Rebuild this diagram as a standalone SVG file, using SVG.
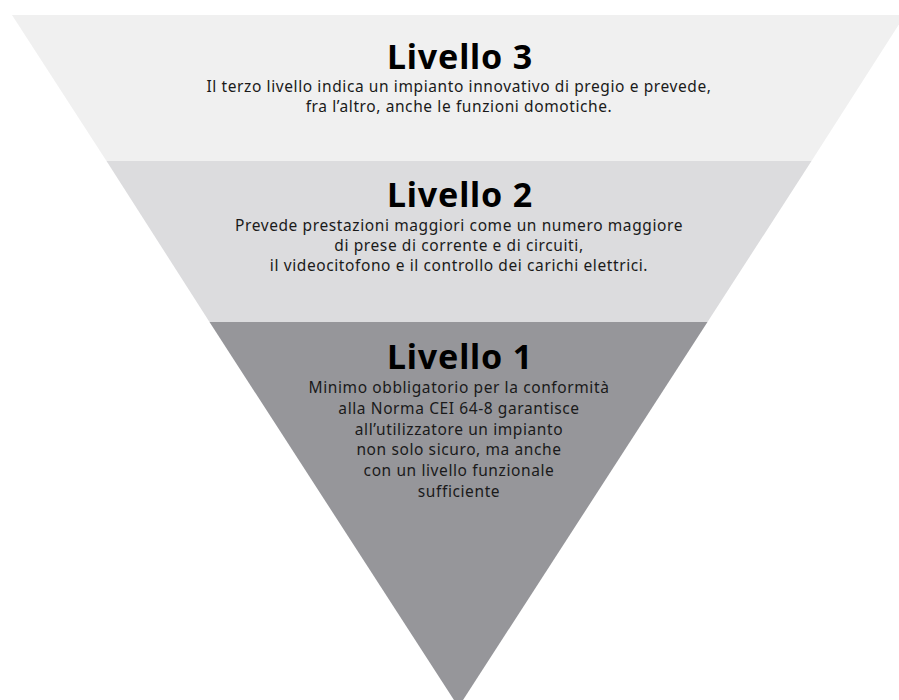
<svg xmlns="http://www.w3.org/2000/svg" width="899" height="700" viewBox="0 0 899 700">
<style>
.t{font-family:"Noto Sans","Open Sans",sans-serif;font-weight:bold;font-size:34px;letter-spacing:0.8px;fill:#000;text-anchor:middle}
.d{font-family:"Noto Sans","Open Sans",sans-serif;font-size:15.5px;letter-spacing:0.6px;fill:#1a1a1a;text-anchor:middle}
</style>
<rect width="899" height="700" fill="#ffffff"/>
<g id="level3">
<polygon points="12,15 905,15 811.5,161 106.5,161" fill="#f0f0f0"/>
<text class="t" x="460" y="69">Livello 3</text>
<text class="d" x="459" y="92">Il terzo livello indica un impianto innovativo di pregio e prevede,</text>
<text class="d" x="459" y="112">fra l’altro, anche le funzioni domotiche.</text>
</g>
<g id="level2">
<polygon points="106.5,161 811.5,161 707.5,322 209.5,322" fill="#dcdcde"/>
<text class="t" x="460" y="207">Livello 2</text>
<text class="d" x="459" y="231">Prevede prestazioni maggiori come un numero maggiore</text>
<text class="d" x="459" y="251">di prese di corrente e di circuiti,</text>
<text class="d" x="459" y="271">il videocitofono e il controllo dei carichi elettrici.</text>
</g>
<g id="level1">
<polygon points="209.5,322 707.5,322 458.5,707" fill="#96969a"/>
<text class="t" x="460" y="369">Livello 1</text>
<text class="d" x="459" y="393">Minimo obbligatorio per la conformità</text>
<text class="d" x="459" y="414">alla Norma CEI 64-8 garantisce</text>
<text class="d" x="459" y="435">all’utilizzatore un impianto</text>
<text class="d" x="459" y="455">non solo sicuro, ma anche</text>
<text class="d" x="459" y="476">con un livello funzionale</text>
<text class="d" x="459" y="497">sufficiente</text>
</g>
<g id="connectors"/>
</svg>
